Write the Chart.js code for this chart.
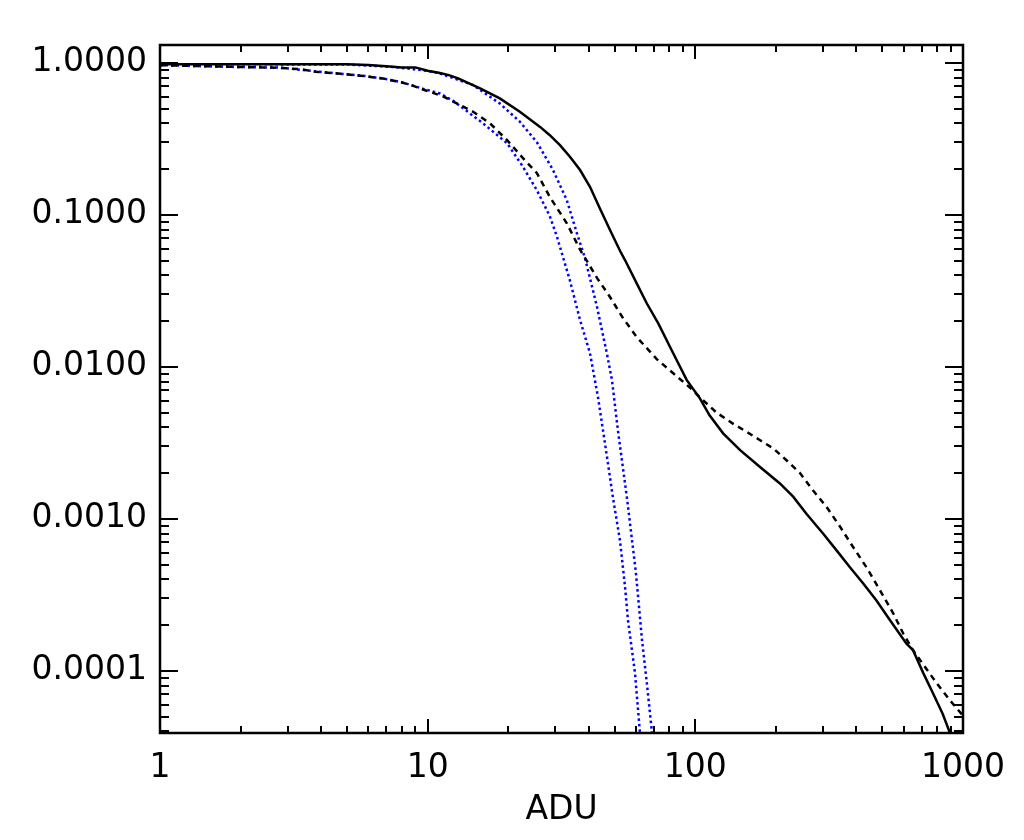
<!DOCTYPE html>
<html>
<head>
<meta charset="utf-8">
<title>ADU</title>
<script src="https://cdn.jsdelivr.net/npm/chart.js@4.4.0/dist/chart.umd.min.js"></script>
<style>
  body { margin: 0; background: #fff; }
  #chart { display: block; }
</style>
</head>
<body>
<canvas id="chart" width="1024" height="840"></canvas>
<script>
// Valeurs (echelle log-log)
const xTicks = [1, 10, 100, 1000];
const yTicks = [1, 0.1, 0.01, 0.001, 0.0001];

// courbe pleine
const xSolid = [1, 2, 3, 4, 5, 6, 7, 8, 9, 10, 11, 12, 13, 15.7, 18.6, 22.1, 26.3, 28.6, 31.2, 34, 37.1, 40.4, 44, 47.9, 52.3, 54.6, 60.4, 65.9, 72.7, 81.5, 92.8, 104, 113, 127, 147, 174, 207, 232, 260, 300, 337, 378, 424, 475, 533, 615, 650, 710, 770, 840, 894];
const ySolid = [0.98, 0.98, 0.98, 0.98, 0.98, 0.966, 0.951, 0.933, 0.933, 0.886, 0.86, 0.83, 0.79, 0.678, 0.583, 0.476, 0.379, 0.334, 0.287, 0.241, 0.197, 0.153, 0.11, 0.08, 0.058, 0.0504, 0.0354, 0.0261, 0.0193, 0.0129, 0.0082, 0.0062, 0.0048, 0.00365, 0.00283, 0.0022, 0.00171, 0.0014, 0.00108, 0.0008, 0.00062, 0.00048, 0.000376, 0.00029, 0.000216, 0.000151, 0.000137, 0.000097, 0.000072, 0.000052, 0.000039];

// courbe en tirets
const xDashed = [1, 1.9, 2.8, 3.4, 3.8, 4.6, 5.8, 6.9, 8, 8.7, 9.6, 10.6, 11.5, 12.5, 14.8, 17.1, 19.8, 22.7, 25.6, 28.6, 33.1, 37.1, 42.9, 48, 53.6, 60.4, 71.9, 82.5, 93, 98, 104, 120, 139, 155, 174, 196, 219, 246, 275, 309, 347, 389, 436, 489, 548, 598, 650, 797, 894, 988, 1000];
const yDashed = [0.965, 0.941, 0.927, 0.905, 0.873, 0.852, 0.818, 0.785, 0.743, 0.713, 0.668, 0.629, 0.598, 0.554, 0.476, 0.4, 0.31, 0.236, 0.188, 0.131, 0.088, 0.059, 0.0385, 0.0288, 0.021, 0.0157, 0.0112, 0.0091, 0.0076, 0.007, 0.0063, 0.005, 0.0042, 0.00375, 0.0033, 0.0029, 0.00243, 0.002, 0.00154, 0.0012, 0.00089, 0.00065, 0.00048, 0.00034, 0.00024, 0.000176, 0.000137, 0.000083, 0.000064, 0.000052, 0.000051];

// ajustement bleu (gauche)
const xFitA = [1, 1.9, 2.8, 3.8, 4.6, 5.8, 6.9, 8, 9.6, 11.1, 12.5, 16.1, 19.8, 22.7, 25.6, 28.6, 30.4, 32, 34, 37.1, 40.4, 43.3, 46.7, 49.2, 52.3, 54.6, 56, 59.5, 62.1];
const yFitA = [0.965, 0.94, 0.93, 0.88, 0.85, 0.82, 0.785, 0.745, 0.675, 0.629, 0.56, 0.4, 0.296, 0.207, 0.145, 0.098, 0.072, 0.053, 0.037, 0.0203, 0.0123, 0.0063, 0.0026, 0.00139, 0.00072, 0.00036, 0.000216, 0.000097, 0.000039];

// ajustement bleu (droite)
const xFitB = [1, 5, 7.4, 10, 11.1, 14.8, 18.6, 22.1, 25.6, 29.4, 33.1, 36.1, 38.7, 42.9, 46.7, 48.8, 51.4, 55.6, 60, 63.2, 65.9, 68.9];
const yFitB = [0.98, 0.975, 0.94, 0.885, 0.852, 0.713, 0.54, 0.41, 0.3, 0.197, 0.125, 0.0757, 0.052, 0.0249, 0.0123, 0.0082, 0.0038, 0.00135, 0.00044, 0.00016, 0.000083, 0.000039];

const toPoints = (xs, ys) => xs.map((x, i) => ({ x: x, y: ys[i] }));

const labelFont = { family: "'DejaVu Sans', sans-serif", size: 33, lineHeight: 1 };

// cadre + graduations vers l'interieur sur les 4 cotes
const framePlugin = {
    id: 'frame',
    afterDatasetsDraw(chart) {
        const ctx = chart.ctx;
        const a = chart.chartArea;
        const xs = chart.scales.x;
        const ys = chart.scales.y;
        ctx.save();
        ctx.strokeStyle = '#000';
        ctx.lineWidth = 2;
        ctx.beginPath();
        for (let d = 1; d <= 1000; d *= 10) {
            for (let k = 1; k <= 9; k++) {
                const v = k * d;
                if (v < xs.min || v > xs.max) continue;
                const p = Math.round(xs.getPixelForValue(v));
                const len = k === 1 ? 14 : 7;
                ctx.moveTo(p, a.bottom);
                ctx.lineTo(p, a.bottom - len);
                ctx.moveTo(p, a.top);
                ctx.lineTo(p, a.top + len);
            }
        }
        for (let d = 1e-5; d <= 1.01; d *= 10) {
            for (let k = 1; k <= 9; k++) {
                const v = k * d;
                if (v < ys.min || v > ys.max) continue;
                const p = Math.round(ys.getPixelForValue(v));
                const len = k === 1 ? 18 : 9;
                ctx.moveTo(a.left, p);
                ctx.lineTo(a.left + len, p);
                ctx.moveTo(a.right, p);
                ctx.lineTo(a.right - len, p);
            }
        }
        ctx.stroke();
        ctx.lineWidth = 2.5;
        ctx.strokeRect(a.left, a.top, a.right - a.left, a.bottom - a.top);
        ctx.restore();
    }
};

const chart = new Chart(document.getElementById('chart'), {
    type: 'line',
    data: {
        datasets: [
            {
                data: toPoints(xSolid, ySolid),
                borderColor: '#000000',
                borderWidth: 2.5
            },
            {
                data: toPoints(xDashed, yDashed),
                borderColor: '#000000',
                borderWidth: 2.5,
                borderDash: [6, 5]
            },
            {
                data: toPoints(xFitA, yFitA),
                borderColor: '#0000ff',
                borderWidth: 2.5,
                borderDash: [2.5, 3]
            },
            {
                data: toPoints(xFitB, yFitB),
                borderColor: '#0000ff',
                borderWidth: 2.5,
                borderDash: [2.5, 3]
            }
        ]
    },
    options: {
        responsive: false,
        animation: false,
        devicePixelRatio: 1,
        elements: {
            point: { radius: 0 },
            line: { tension: 0, fill: false }
        },
        layout: {
            padding: { left: 0, right: 61, top: 45, bottom: 0 }
        },
        plugins: {
            legend: { display: false },
            tooltip: { enabled: false }
        },
        scales: {
            x: {
                type: 'logarithmic',
                position: 'bottom',
                min: 1,
                max: 1000,
                grid: { display: false, drawTicks: false },
                border: { display: false },
                afterBuildTicks: (scale) => {
                    scale.ticks = xTicks.map(v => ({ value: v }));
                },
                afterFit: (scale) => { scale.height = 107; },
                ticks: {
                    autoSkip: false,
                    maxRotation: 0,
                    padding: 19,
                    color: '#000',
                    font: labelFont,
                    callback: (v) => String(v)
                },
                title: {
                    display: true,
                    text: 'ADU',
                    color: '#000',
                    font: labelFont,
                    padding: { top: 0, bottom: 13 }
                }
            },
            y: {
                type: 'logarithmic',
                position: 'left',
                min: 3.9e-5,
                max: 1.31,
                grid: { display: false, drawTicks: false },
                border: { display: false },
                afterBuildTicks: (scale) => {
                    scale.ticks = yTicks.map(v => ({ value: v }));
                },
                afterFit: (scale) => { scale.width = 160; },
                ticks: {
                    autoSkip: false,
                    padding: 13,
                    color: '#000',
                    font: labelFont,
                    callback: (v) => Number(v).toFixed(4)
                }
            }
        }
    },
    plugins: [framePlugin]
});
</script>
</body>
</html>
